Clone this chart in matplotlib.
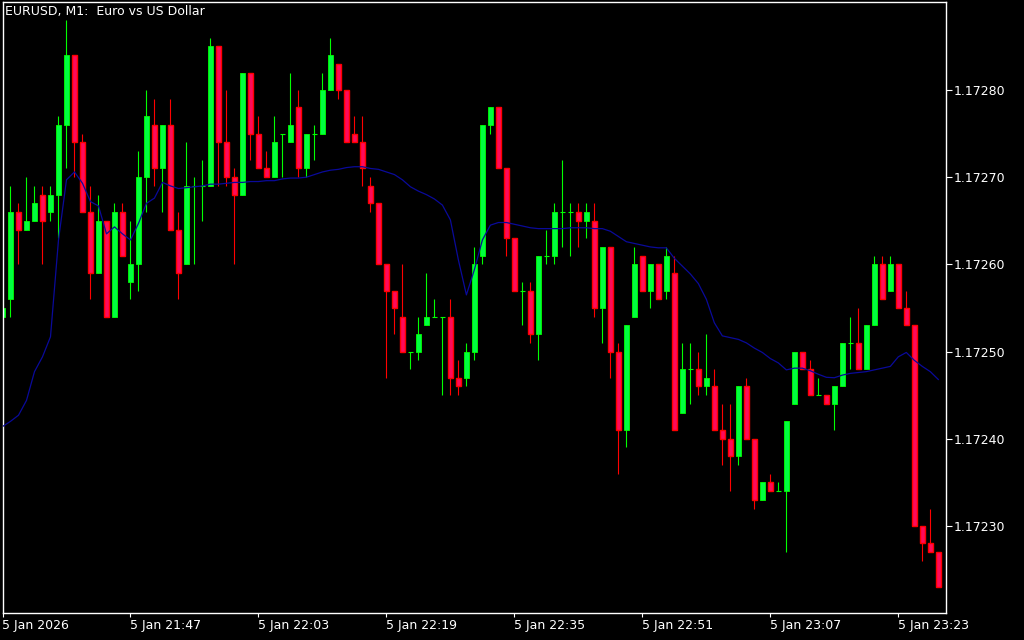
import numpy as np
import matplotlib.pyplot as plt

# EURUSD M1, prices stored as points (0.00001) above 1.17200
BASE = 1.172

opens_pts = [54, 56, 66, 64, 65, 68, 66, 68, 76, 84,
             74, 66, 59, 65, 54, 66, 58, 60, 70, 76,
             71, 76, 64, 60, 69, 69, 69, 85, 74, 70,
             68, 82, 75, 71, 70, 75, 74, 78, 71, 75,
             75, 80, 83, 80, 75, 74, 69, 67, 60, 57,
             54, 50, 50, 53, 54, 54, 54, 47, 47, 50,
             61, 76, 78, 71, 63, 57, 57, 52, 61, 61,
             66, 66, 66, 65, 65, 55, 62, 50, 41, 54,
             61, 57, 60, 57, 59, 43, 48, 48, 46, 46,
             41, 40, 38, 46, 40, 33, 35, 34, 34, 44,
             50, 48, 45, 45, 44, 46, 51, 51, 48, 53,
             60, 57, 60, 55, 53, 30, 28, 27]
highs_pts = [55, 69, 67, 70, 69, 69, 69, 77, 88, 84,
             75, 69, 68, 65, 67, 67, 65, 73, 80, 79,
             76, 79, 66, 74, 70, 72, 86, 85, 80, 71,
             82, 82, 77, 73, 77, 75, 82, 80, 75, 76,
             82, 86, 83, 80, 77, 77, 70, 67, 60, 57,
             60, 50, 54, 59, 56, 54, 56, 49, 51, 62,
             76, 78, 78, 71, 63, 58, 58, 61, 64, 67,
             72, 67, 67, 67, 67, 62, 62, 51, 53, 62,
             61, 60, 60, 62, 61, 51, 51, 50, 52, 48,
             44, 44, 46, 47, 40, 35, 36, 35, 42, 50,
             50, 49, 47, 45, 46, 51, 54, 55, 53, 61,
             61, 61, 60, 57, 53, 30, 32, 27]
lows_pts = [54, 54, 60, 64, 65, 60, 65, 63, 71, 70,
            66, 56, 59, 54, 54, 61, 56, 57, 66, 69,
            66, 64, 56, 60, 60, 65, 69, 69, 69, 60,
            68, 72, 71, 70, 70, 70, 74, 70, 70, 72,
            75, 80, 79, 74, 74, 69, 66, 60, 47, 52,
            50, 48, 49, 53, 54, 45, 45, 45, 46, 49,
            60, 75, 71, 61, 57, 53, 51, 49, 60, 60,
            62, 61, 62, 63, 54, 51, 47, 36, 39, 54,
            57, 55, 56, 56, 41, 43, 44, 45, 45, 41,
            37, 34, 37, 40, 32, 33, 34, 34, 27, 44,
            48, 45, 45, 44, 41, 46, 48, 48, 48, 53,
            56, 57, 55, 53, 30, 26, 27, 23]
closes_pts = [55, 66, 64, 65, 67, 65, 68, 76, 84, 74,
              66, 59, 65, 54, 66, 61, 60, 70, 77, 71,
              76, 64, 59, 69, 69, 69, 85, 74, 70, 68,
              82, 75, 71, 70, 74, 75, 76, 71, 75, 75,
              80, 84, 80, 74, 74, 71, 67, 60, 57, 55,
              50, 50, 52, 54, 54, 54, 47, 46, 50, 60,
              76, 78, 71, 63, 57, 57, 52, 61, 61, 66,
              66, 66, 65, 66, 55, 62, 50, 41, 53, 60,
              57, 60, 56, 61, 41, 48, 48, 46, 47, 41,
              40, 38, 46, 40, 33, 35, 34, 34, 42, 50,
              48, 45, 45, 44, 46, 51, 51, 48, 53, 60,
              56, 60, 55, 53, 30, 28, 27, 23]
ma_pts = [41.4, 42.0, 42.7, 44.4, 47.7, 49.4, 51.7, 62.8, 69.7, 70.6,
          69.3, 67.2, 66.7, 63.5, 64.3, 63.5, 62.8, 64.7, 67.0, 67.6,
          69.4, 69.0, 68.7, 68.8, 68.9, 69.0, 69.2, 69.2, 69.3, 69.4,
          69.4, 69.5, 69.5, 69.6, 69.6, 69.8, 69.9, 69.9, 70.0, 70.3,
          70.6, 70.8, 70.9, 71.1, 71.2, 71.2, 71.0, 70.9, 70.6, 70.3,
          69.7, 68.9, 68.4, 68.0, 67.5, 66.8, 65.1, 60.5, 56.5, 59.4,
          62.8, 64.5, 64.8, 64.8, 64.6, 64.4, 64.2, 64.1, 64.1, 64.1,
          64.1, 64.2, 64.2, 64.2, 64.1, 64.1, 63.8, 63.2, 62.6, 62.4,
          62.2, 62.0, 61.9, 61.9, 60.7, 59.8, 58.9, 57.8, 56.0, 53.3,
          51.8, 51.6, 51.4, 51.0, 50.4, 49.9, 49.2, 48.7, 47.9, 48.1,
          48.1, 47.8, 47.4, 47.05, 47.0, 47.3, 47.5, 47.6, 47.7, 47.9,
          48.1, 48.3, 49.4, 49.9, 49.0, 48.3, 47.7, 46.8]

time_ticks = [0, 16, 32, 48, 64, 80, 96, 112]
time_labels = ["5 Jan 2026", "5 Jan 21:47", "5 Jan 22:03", "5 Jan 22:19",
               "5 Jan 22:35", "5 Jan 22:51", "5 Jan 23:07", "5 Jan 23:23"]
price_ticks = [1.17230, 1.17240, 1.17250, 1.17260, 1.17270, 1.17280]

o = BASE + np.array(opens_pts) * 1e-5
h = BASE + np.array(highs_pts) * 1e-5
l = BASE + np.array(lows_pts) * 1e-5
c = BASE + np.array(closes_pts) * 1e-5
ma = BASE + np.array(ma_pts) * 1e-5
x = np.arange(len(o))

up = c > o
down = c < o
doji = c == o

fig = plt.figure(figsize=(10.24, 6.4), dpi=100, facecolor='black')
# plot frame in pixels: left 2.5, right 946, top 2, bottom 613
ax = fig.add_axes([2.5 / 1024, 1 - 613 / 640, 943.5 / 1024, 611 / 640], facecolor='black')

ax.vlines(x, l, h, colors=np.where(c >= o, '#00FF00', '#FF0000'), linewidth=0.8, zorder=1)
ax.bar(x[up], c[up] - o[up], bottom=o[up], width=0.6, color='#00FF40',
       edgecolor='#00FF00', linewidth=0.6, zorder=2)
ax.bar(x[down], o[down] - c[down], bottom=c[down], width=0.55, color='#FF0A5A',
       edgecolor='#FF0000', linewidth=1.0, zorder=2)
ax.hlines(c[doji], x[doji] - 0.32, x[doji] + 0.32, colors='#00FF00', linewidth=0.8, zorder=2)
ax.plot(x, ma, color='#0A0A9A', linewidth=0.9, zorder=3)

ax.set_xlim((2.5 - 2.3) / 8, (946 - 2.3) / 8)
ax.set_ylim(BASE + 20.02e-5, BASE + 90.09e-5)

ax.yaxis.tick_right()
ax.set_yticks(price_ticks)
ax.set_yticklabels(["%.5f" % p for p in price_ticks])
ax.set_xticks(time_ticks)
ax.set_xticklabels(time_labels, ha='left')
ax.tick_params(axis='y', colors='white', length=4, width=0.8, labelsize=9, pad=1.5)
ax.tick_params(axis='x', colors='white', length=3, width=0.8, labelsize=9, pad=1.5)
for s in ax.spines.values():
    s.set_color('white')
    s.set_linewidth(1)

fig.text(5 / 1024, 1 - 11 / 640, "EURUSD, M1:  Euro vs US Dollar", color='white',
         fontsize=9, va='center', ha='left')

fig.savefig('out.png', dpi=100, facecolor='black')
